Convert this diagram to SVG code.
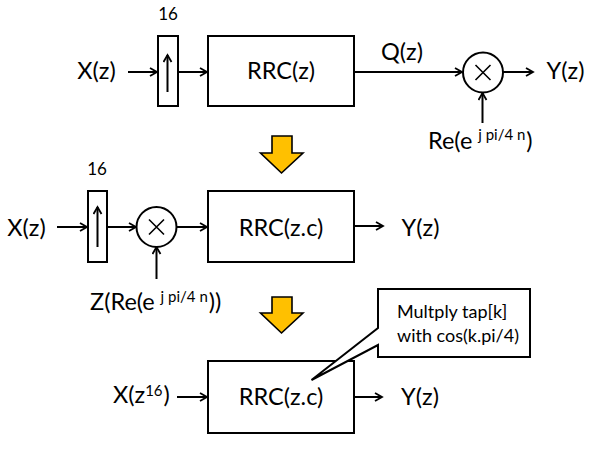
<svg xmlns="http://www.w3.org/2000/svg" width="598" height="450" viewBox="0 0 598 450">
<style>
text{font-family:Lato,"Open Sans","Liberation Sans",sans-serif;fill:#000}
.t{font-size:23.5px}
.s{font-size:17px}
.sup{font-size:15px}
.c{font-size:18px}
.box{fill:#fff;stroke:#000;stroke-width:2}
.ln{fill:none;stroke:#000;stroke-width:2}
.x{fill:none;stroke:#000;stroke-width:1.6}
.big{fill:#FFC000;stroke:#000;stroke-width:1.6;stroke-linejoin:miter}
</style>
<defs>
<marker id="ah" markerWidth="10" markerHeight="10" refX="8" refY="5" orient="auto" markerUnits="userSpaceOnUse">
<path d="M1,1 L8,5 L1,9" fill="none" stroke="#000" stroke-width="1.8"/>
</marker>
</defs>
<g id="connectors">
<line class="ln" x1="128" y1="72" x2="157" y2="72" marker-end="url(#ah)"/>
<line class="ln" x1="178" y1="72" x2="207" y2="72" marker-end="url(#ah)"/>
<line class="ln" x1="354" y1="72" x2="462" y2="72" marker-end="url(#ah)"/>
<line class="ln" x1="503" y1="72" x2="533" y2="72" marker-end="url(#ah)"/>
<line class="ln" x1="482.5" y1="123" x2="482.5" y2="93" marker-end="url(#ah)"/>
<line class="ln" x1="57" y1="227" x2="87" y2="227" marker-end="url(#ah)"/>
<line class="ln" x1="107" y1="227" x2="136" y2="227" marker-end="url(#ah)"/>
<line class="ln" x1="177" y1="227" x2="207" y2="227" marker-end="url(#ah)"/>
<line class="ln" x1="354" y1="226" x2="383" y2="226" marker-end="url(#ah)"/>
<line class="ln" x1="156.5" y1="279" x2="156.5" y2="247" marker-end="url(#ah)"/>
<line class="ln" x1="177" y1="397" x2="207" y2="397" marker-end="url(#ah)"/>
<line class="ln" x1="355" y1="397" x2="382" y2="397" marker-end="url(#ah)"/>
</g>
<g id="up1">
<rect class="box" x="158" y="36" width="20" height="70"/>
<line class="ln" x1="167.5" y1="92" x2="167.5" y2="55" marker-end="url(#ah)"/>
<text class="s" x="168" y="20" text-anchor="middle">16</text>
</g>
<g id="rrc1">
<rect class="box" x="208" y="36" width="146" height="70"/>
<text class="t" x="281" y="79" text-anchor="middle">RRC(z)</text>
</g>
<g id="mul1">
<circle class="box" cx="483" cy="72.5" r="20"/>
<path class="x" d="M475.5,65 L490.5,80 M490.5,65 L475.5,80"/>
</g>
<text class="t" x="96.5" y="79" text-anchor="middle">X(z)</text>
<text class="t" x="402" y="60" text-anchor="middle">Q(z)</text>
<text class="t" x="565.5" y="79" text-anchor="middle">Y(z)</text>
<text class="t" x="428" y="149">Re(e<tspan class="sup" dx="2" dy="-9"> j pi/4 n</tspan><tspan dx="1" dy="9">)</tspan></text>
<g id="arrow1">
<path class="big" d="M272,136 H292 V153 H303 L281.5,173 L260.5,153 H272 Z"/>
</g>
<g id="up2">
<rect class="box" x="88" y="191" width="19" height="71"/>
<line class="ln" x1="97.5" y1="247" x2="97.5" y2="207" marker-end="url(#ah)"/>
<text class="s" x="97" y="175" text-anchor="middle">16</text>
</g>
<g id="mul2">
<circle class="box" cx="156.5" cy="227" r="20"/>
<path class="x" d="M149,219.5 L164,234.5 M164,219.5 L149,234.5"/>
</g>
<g id="rrc2">
<rect class="box" x="208" y="191" width="146" height="71"/>
<text class="t" x="281" y="236" text-anchor="middle">RRC(z.c)</text>
</g>
<text class="t" x="26.5" y="236" text-anchor="middle">X(z)</text>
<text class="t" x="420.5" y="236" text-anchor="middle">Y(z)</text>
<text class="t" x="90" y="310">Z(Re(e<tspan class="sup" dx="2" dy="-8"> j pi/4 n</tspan><tspan dx="1" dy="8">))</tspan></text>
<g id="arrow2">
<path class="big" d="M272,297 H292 V313 H303 L281.5,333 L260.5,313 H272 Z"/>
</g>
<g id="rrc3">
<rect class="box" x="208" y="361" width="146" height="72"/>
<text class="t" x="281" y="405" text-anchor="middle">RRC(z.c)</text>
</g>
<text class="t" x="113" y="403">X(z<tspan class="sup" dy="-7">16</tspan><tspan dx="1" dy="7">)</tspan></text>
<text class="t" x="420" y="405" text-anchor="middle">Y(z)</text>
<g id="callout">
<path class="box" d="M378,289 H530 V357 H378 V345 L311.5,380 L378,328 Z"/>
<text class="c" x="397" y="318">Multply tap[k]</text>
<text class="c" x="397" y="342">with cos(k.pi/4)</text>
</g>
</svg>
